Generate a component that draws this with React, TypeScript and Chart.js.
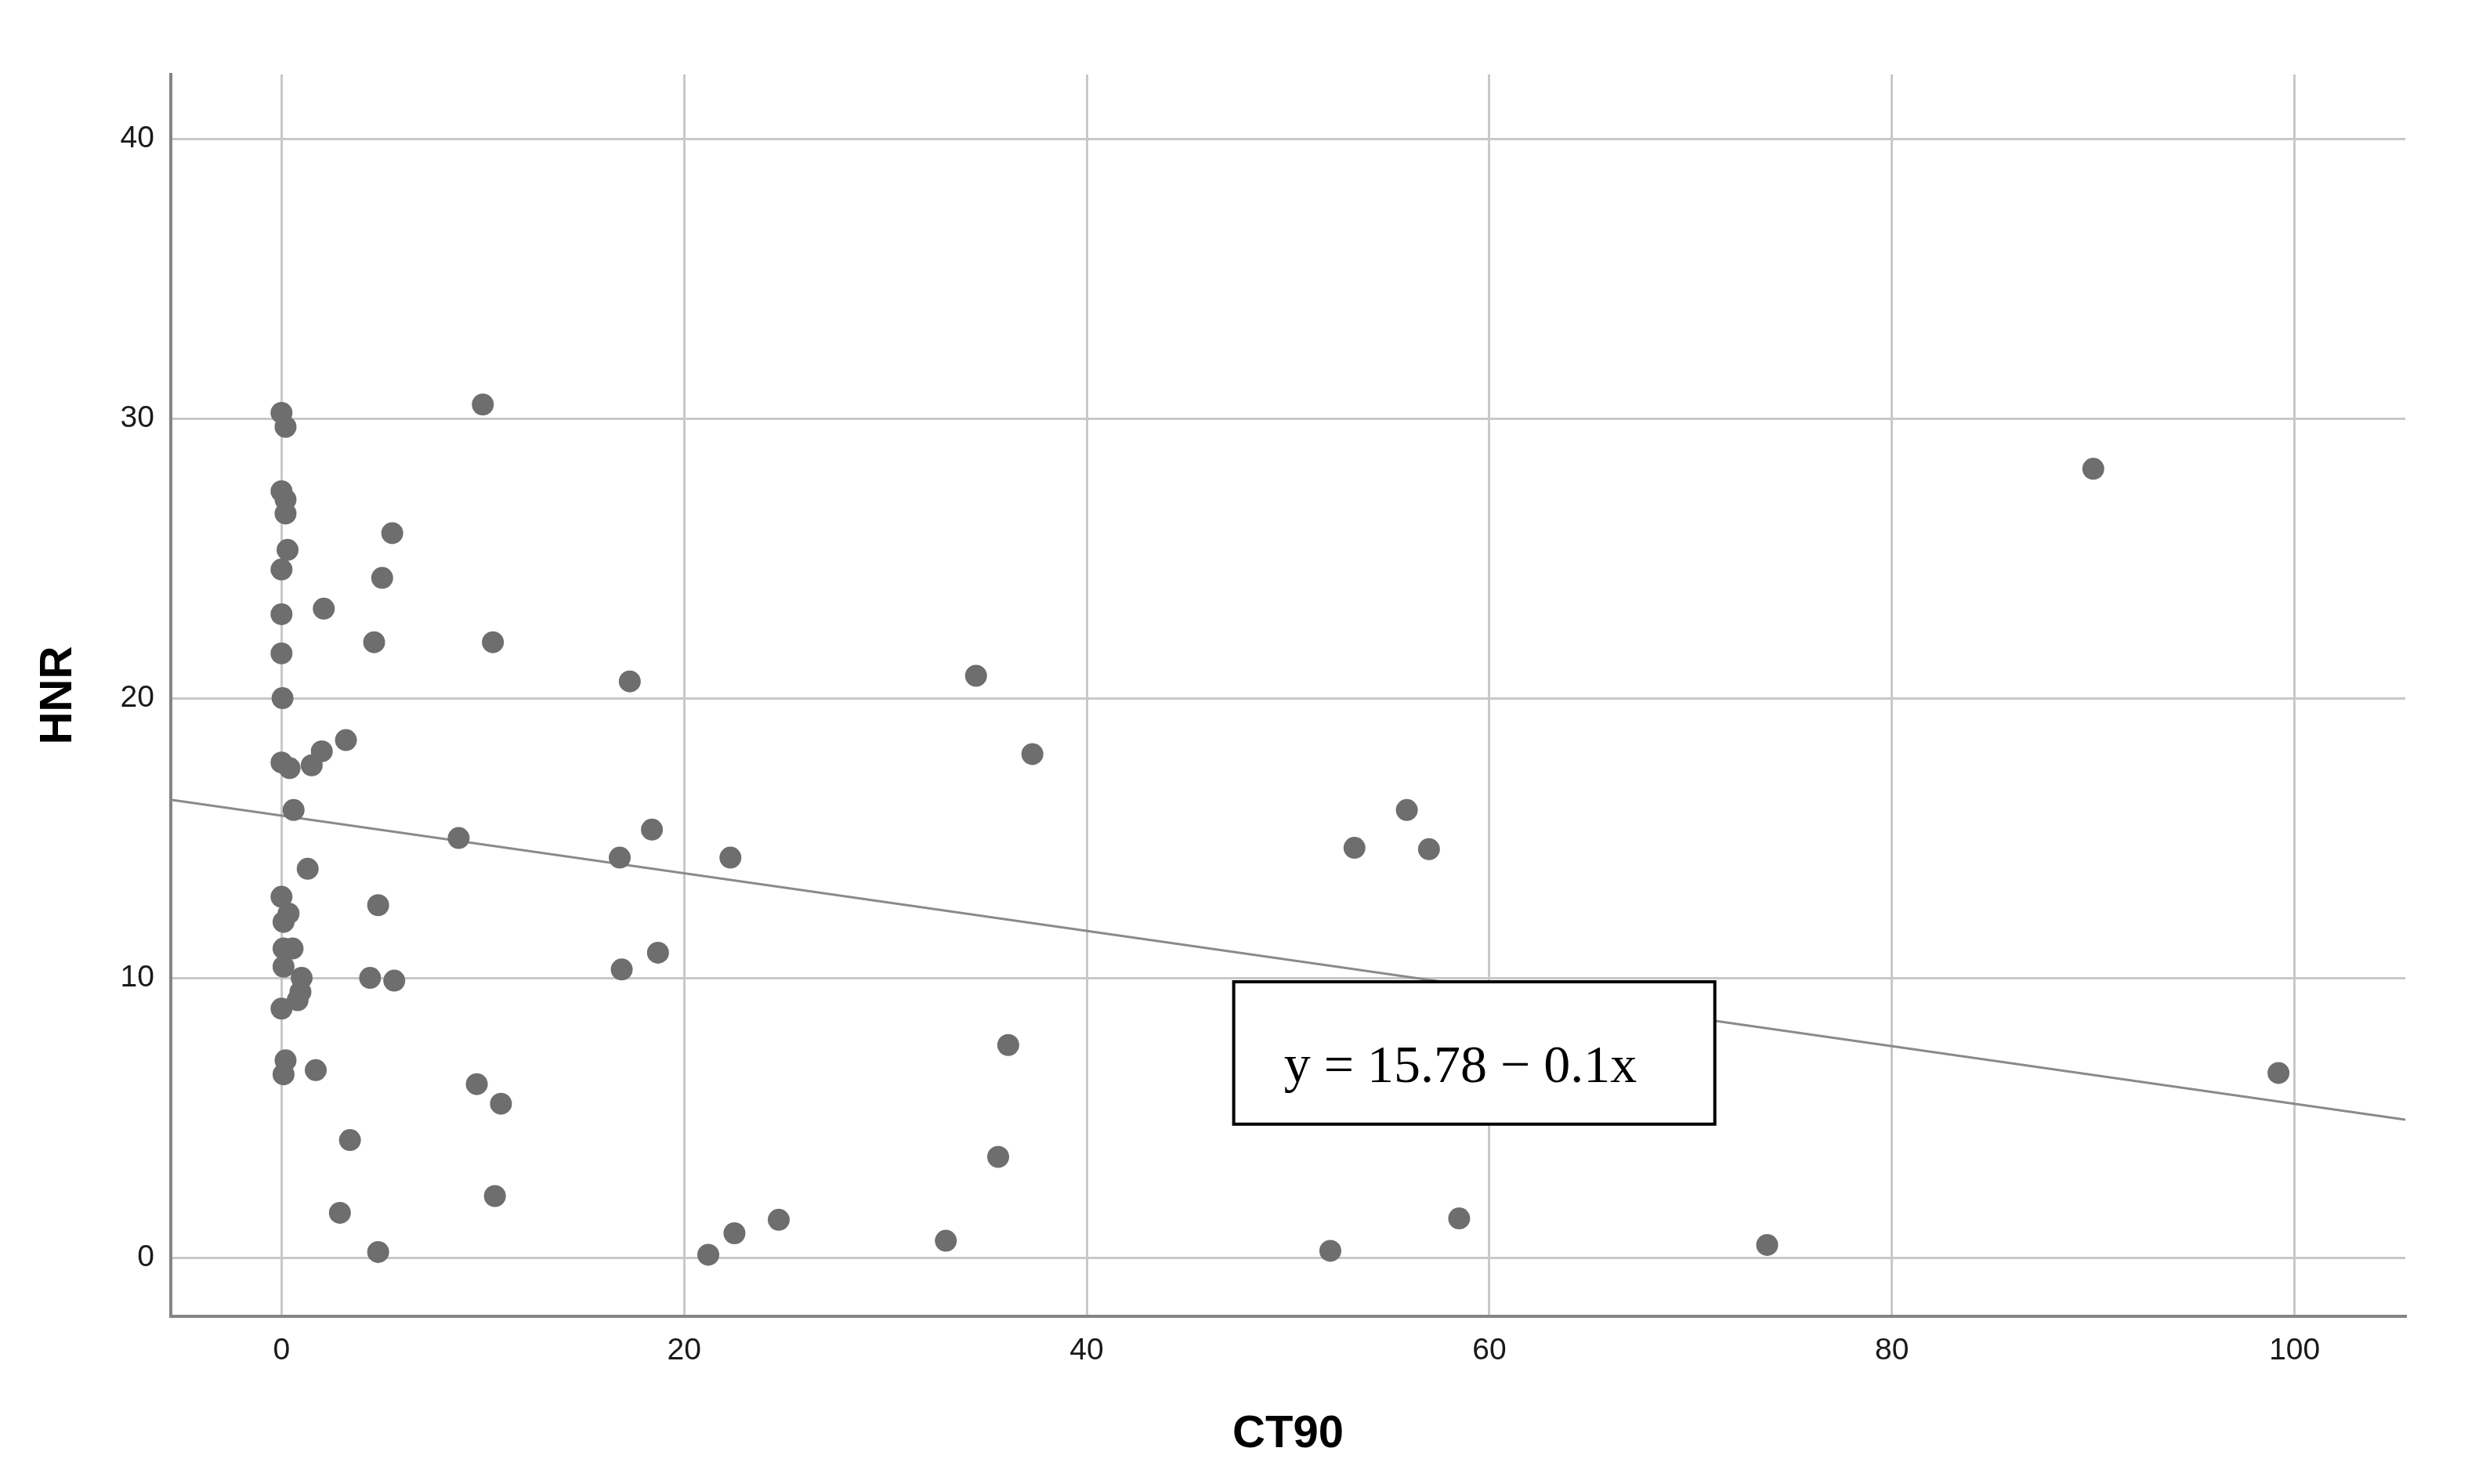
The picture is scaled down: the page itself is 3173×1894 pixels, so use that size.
import React, { useEffect, useRef } from "react";
import { Chart, registerables } from "chart.js";

Chart.register(...registerables);

// ---- Data ----
const ct90: number[] = [
  0, 0.2, 10.0, 0, 0.2, 0.2, 0.3, 0, 5.5, 5.0,
  0, 2.1, 4.6, 10.5, 0, 0.05, 17.3, 34.5, 37.3, 3.2,
  2.0, 0, 0.4, 1.5, 0.6, 8.8, 1.3, 18.4, 16.8, 22.3,
  90.0, 55.9, 53.3, 57.0, 0, 0.35, 0.1, 4.8, 0.1, 0.55,
  0.1, 1.0, 0.94, 0.8, 0, 4.4, 5.6, 16.9, 18.7, 0.2,
  0.1, 1.7, 9.7, 10.9, 36.1, 99.2, 3.4, 35.6, 10.6, 2.9,
  4.8, 21.2, 22.5, 24.7, 33.0, 52.1, 58.5, 73.8,
];
const hnr: number[] = [
  30.2, 29.7, 30.5, 27.4, 27.1, 26.6, 25.3, 24.6, 25.9, 24.3,
  23.0, 23.2, 22.0, 22.0, 21.6, 20.0, 20.6, 20.8, 18.0, 18.5,
  18.1, 17.7, 17.5, 17.6, 16.0, 15.0, 13.9, 15.3, 14.3, 14.3,
  28.2, 16.0, 14.65, 14.6, 12.9, 12.3, 12.0, 12.6, 11.05, 11.05,
  10.4, 10.0, 9.5, 9.2, 8.9, 10.0, 9.9, 10.3, 10.9, 7.05,
  6.55, 6.7, 6.2, 5.5, 7.6, 6.6, 4.2, 3.6, 2.2, 1.6,
  0.2, 0.1, 0.87, 1.35, 0.6, 0.24, 1.4, 0.45,
];
const fitLineX: number[] = [-5.5, 105.5];
const fitLineY: number[] = [16.37, 4.93];
const xTickValues: number[] = [0, 20, 40, 60, 80, 100];
const yTickValues: number[] = [0, 10, 20, 30, 40];
const xAxisTitle = "CT90";
const yAxisTitle = "HNR";
const equationLabel = "y = 15.78 − 0.1x";

const W = 3173;
const H = 1894;

const equationBoxPlugin = {
  id: "equationBox",
  afterDatasetsDraw(chart: any, _args: any, opts: any) {
    const { ctx, scales } = chart;
    const xs = scales.x;
    const ys = scales.y;
    const l = xs.getPixelForValue(opts.x0);
    const r = xs.getPixelForValue(opts.x1);
    const t = ys.getPixelForValue(opts.y0);
    const b = ys.getPixelForValue(opts.y1);
    ctx.save();
    ctx.fillStyle = "#ffffff";
    ctx.fillRect(l, t, r - l, b - t);
    ctx.strokeStyle = "#000000";
    ctx.lineWidth = 4;
    ctx.strokeRect(l, t, r - l, b - t);
    ctx.fillStyle = "#000000";
    ctx.font = '68px "Liberation Serif", "Times New Roman", serif';
    ctx.textAlign = "left";
    ctx.textBaseline = "alphabetic";
    ctx.fillText(opts.text, l + 64, t + 128);
    ctx.restore();
  },
};

export default function App() {
  const canvasRef = useRef<HTMLCanvasElement | null>(null);

  useEffect(() => {
    if (!canvasRef.current) return;
    const points = ct90.map((x, i) => ({ x, y: hnr[i] }));
    const fit = fitLineX.map((x, i) => ({ x, y: fitLineY[i] }));

    const chart = new Chart(canvasRef.current, {
      type: "scatter",
      data: {
        datasets: [
          {
            type: "scatter",
            label: "HNR",
            data: points,
            backgroundColor: "#6e6e6e",
            borderWidth: 0,
            pointRadius: 14,
            pointHoverRadius: 14,
            order: 0,
          },
          {
            type: "line",
            label: "Fit",
            data: fit,
            borderColor: "#8a8a8a",
            borderWidth: 3,
            pointRadius: 0,
            fill: false,
            order: 1,
          } as any,
        ],
      },
      options: {
        responsive: false,
        animation: false,
        layout: { padding: { left: 0, top: 95, right: 103, bottom: 0 } },
        plugins: {
          legend: { display: false },
          tooltip: { enabled: false },
          equationBox: { x0: 47.3, x1: 71.2, y0: 9.86, y1: 4.77, text: equationLabel },
        } as any,
        scales: {
          x: {
            type: "linear",
            min: -5.5,
            max: 105.5,
            afterFit: (s: any) => {
              s.height = 214;
            },
            afterBuildTicks: (s: any) => {
              s.ticks = xTickValues.map((v) => ({ value: v }));
            },
            grid: { color: "#c8c8c8", lineWidth: 3, drawTicks: false },
            border: { display: true, color: "#858585", width: 4 },
            ticks: {
              padding: 21,
              color: "#1a1a1a",
              font: { family: '"Liberation Sans", Arial, sans-serif', size: 39 },
            },
            title: {
              display: true,
              text: xAxisTitle,
              color: "#000000",
              font: { family: '"Liberation Sans", Arial, sans-serif', size: 58, weight: "bold", lineHeight: 1 },
              padding: { top: 0, bottom: 34 },
            },
          },
          y: {
            type: "linear",
            min: -2.1,
            max: 42.3,
            afterFit: (s: any) => {
              s.width = 218;
            },
            afterBuildTicks: (s: any) => {
              s.ticks = yTickValues.map((v) => ({ value: v }));
            },
            grid: { color: "#c8c8c8", lineWidth: 3, drawTicks: false },
            border: { display: true, color: "#858585", width: 4 },
            ticks: {
              padding: 21,
              color: "#1a1a1a",
              font: { family: '"Liberation Sans", Arial, sans-serif', size: 39 },
            },
            title: {
              display: true,
              text: yAxisTitle,
              color: "#000000",
              font: { family: '"Liberation Sans", Arial, sans-serif', size: 58, weight: "bold", lineHeight: 1 },
              padding: { top: 46, bottom: 0 },
            },
          },
        },
      } as any,
      plugins: [equationBoxPlugin],
    });

    return () => {
      chart.destroy();
    };
  }, []);

  return (
    <div style={{ position: "absolute", left: 0, top: 0, width: W, height: H, background: "#ffffff" }}>
      <canvas ref={canvasRef} width={W} height={H} style={{ display: "block", width: W, height: H }} />
    </div>
  );
}
